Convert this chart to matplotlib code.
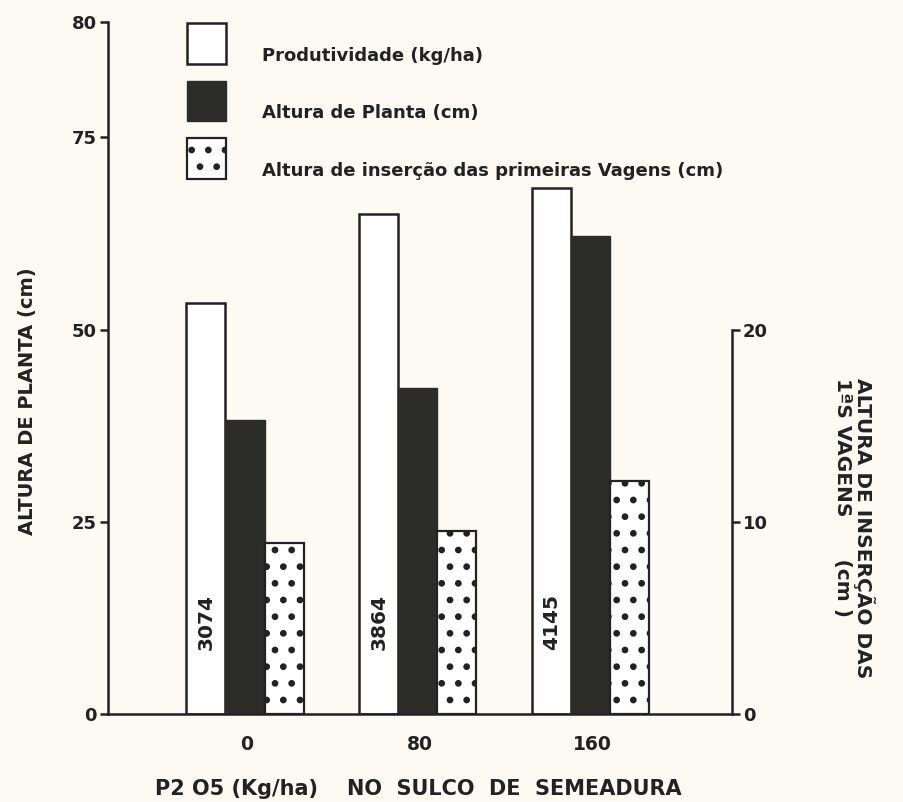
import numpy as np
import matplotlib
matplotlib.use("Agg")
import matplotlib.pyplot as plt

# Dados
doses = ["0", "80", "160"]                      # P2O5 (kg/ha) no sulco
produtividade_kg = ["3074", "3864", "4145"]     # rótulos das barras brancas
produtividade_barra = [53.4, 65.0, 68.4]        # altura das barras brancas (escala esquerda)
altura_planta = [38.2, 42.4, 62.2]              # cm (escala esquerda)
altura_insercao = [8.9, 9.5, 12.1]              # cm (escala direita)

left_ticks = [0, 25, 50, 75, 90]
left_ticklabels = ["0", "25", "50", "75", "80"]
right_ticks = [0, 10, 20]

plt.rcParams["font.family"] = "DejaVu Sans"
plt.rcParams["font.weight"] = "bold"
plt.rcParams["hatch.linewidth"] = 2.4
plt.rcParams["hatch.color"] = "#222222"

bg = "#fcfaf3"
ink = "#222222"
dark = "#2c2c28"

fig = plt.figure(figsize=(9.04, 8.02), dpi=100, facecolor=bg)
ax = fig.add_axes([108 / 904, 88 / 802, 624 / 904, 692 / 802])
ax.set_facecolor(bg)

x = np.arange(len(doses))
w = 0.226

b1 = ax.bar(x - w, produtividade_barra, w, color="white", edgecolor=ink,
            linewidth=1.8, label="Produtividade (kg/ha)", zorder=2)
b2 = ax.bar(x, altura_planta, w, color=dark, edgecolor=dark,
            linewidth=1.0, label="Altura de Planta (cm)", zorder=2)

ax.set_xlim(-0.793, 2.819)
ax.set_ylim(0, 90)

ax2 = ax.twinx()
ax2.set_ylim(0, 36)
b3 = ax2.bar(x + w, altura_insercao, w, color="white", edgecolor=ink,
             linewidth=1.6, hatch=".",
             label="Altura de inserção das primeiras Vagens (cm)", zorder=2)

# rótulos de produtividade dentro das barras brancas
for xi, txt in zip(x - w, produtividade_kg):
    ax.text(xi, 12, txt, rotation=90, ha="center", va="center",
            fontsize=14.5, fontweight="bold", color=ink, zorder=3)

# eixos
for a in (ax, ax2):
    a.spines["top"].set_visible(False)
ax.spines["right"].set_visible(False)
ax2.spines["left"].set_visible(False)
ax2.spines["bottom"].set_visible(False)
for s in ("left", "bottom"):
    ax.spines[s].set_linewidth(1.8)
    ax.spines[s].set_color(ink)
ax2.spines["right"].set_linewidth(1.8)
ax2.spines["right"].set_color(ink)
ax2.spines["right"].set_bounds(0, 20)

ax.set_yticks(left_ticks)
ax.set_yticklabels(left_ticklabels)
ax.tick_params(axis="y", direction="out", length=6, width=1.8, pad=2,
               labelsize=13, colors=ink)
ax.set_xticks(x + 0.01)
ax.set_xticklabels(doses)
ax.tick_params(axis="x", length=0, pad=15, labelsize=13.5, colors=ink)

ax2.set_yticks(right_ticks)
ax2.tick_params(axis="y", direction="out", length=6, width=1.8, pad=2,
                labelsize=13, colors=ink)

# títulos dos eixos
fig.text(28 / 904, 1 - 401 / 802, "ALTURA DE PLANTA (cm)", rotation=90,
         ha="center", va="center", fontsize=14, fontweight="bold", color=ink)
fig.text(854 / 904, 1 - 378 / 802,
         "ALTURA DE INSERÇÃO DAS\n1ªS VAGENS      (cm )",
         rotation=-90, ha="center", va="top", multialignment="left",
         fontsize=14.5, fontweight="bold", color=ink, linespacing=1.1)
fig.text(155 / 904, 1 - 789 / 802,
         "P2 O5 (Kg/ha)    NO  SULCO  DE  SEMEADURA",
         ha="left", va="center", fontsize=15, fontweight="bold", color=ink)

# legenda
fs = 13
fpx = fs * 100 / 72
leg = ax.legend(handles=[b1, b2, b3], loc="upper left",
                bbox_to_anchor=(187 / 904, 1 - 23 / 802),
                bbox_transform=fig.transFigure, frameon=False,
                borderpad=0, borderaxespad=0, fontsize=fs,
                handlelength=39 / fpx, handleheight=40 / fs,
                handletextpad=36 / fpx, labelspacing=17 / fpx,
                labelcolor=ink)
# no original o texto fica um pouco abaixo do centro da caixa
for t in leg.get_texts():
    t.set_position((0, -12))

fig.savefig("out.png", dpi=100, facecolor=bg)
